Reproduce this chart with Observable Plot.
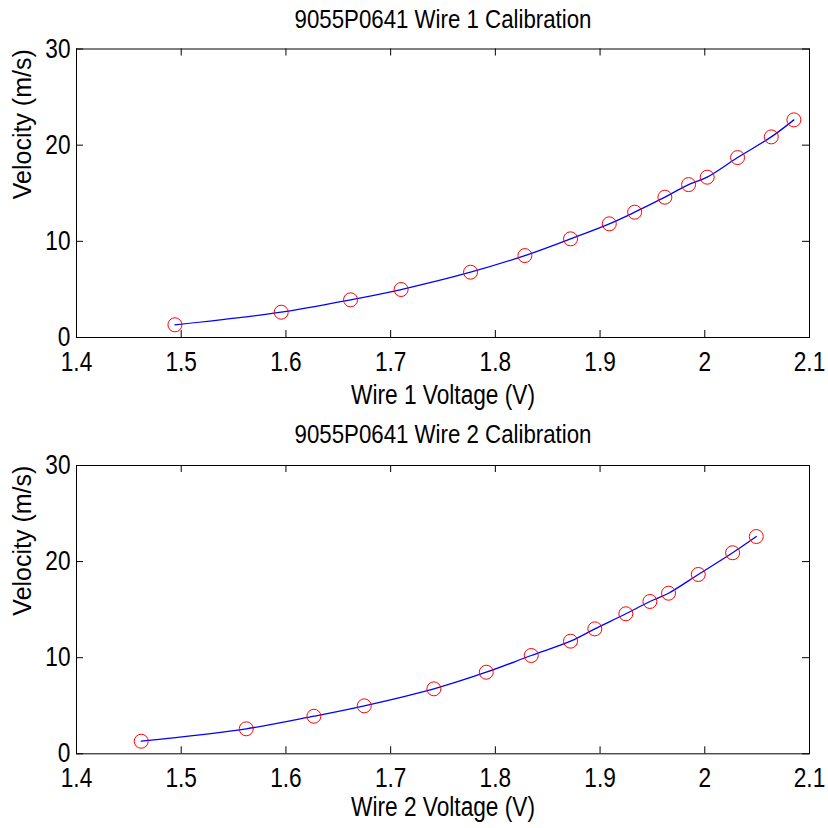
<!DOCTYPE html>
<html><head><meta charset="utf-8">
<script src="https://cdn.jsdelivr.net/npm/d3@7"></script>
<script src="https://cdn.jsdelivr.net/npm/@observablehq/plot@0.6"></script>
<style>body{margin:0;background:#fff;font-family:"Liberation Sans",Arial,sans-serif}svg{display:block}</style>
</head><body><div id="c"></div>
<script>
const wire1Voltage = [1.494,1.5955,1.6617,1.710,1.7763,1.8282,1.8718,1.9088,1.9330,1.9619,1.9845,2.0023,2.0313,2.0635,2.0851];
const wire1Velocity = [1.32,2.63,3.92,4.99,6.79,8.52,10.26,11.82,13.03,14.59,15.90,16.67,18.71,20.86,22.63];
const wire2Voltage = [1.4618,1.5621,1.6267,1.6748,1.7413,1.7913,1.8343,1.8718,1.8950,1.9246,1.9476,1.9654,1.9938,2.0266,2.0492];
const wire2Velocity = [1.31,2.60,3.91,4.99,6.76,8.49,10.23,11.72,13.0,14.57,15.85,16.71,18.66,20.92,22.61];
const xTicks = [1.4,1.5,1.6,1.7,1.8,1.9,2.0,2.1];
const yTicks = [0,10,20,30];
const titles = ["9055P0641 Wire 1 Calibration","9055P0641 Wire 2 Calibration"];
const xLabels = ["Wire 1 Voltage (V)","Wire 2 Voltage (V)"];
const yLabel = "Velocity (m/s)";

function panel(vx, vy, title, xlabel, mt, mb, titleDy, xlabDy) {
  const data = vx.map((v,i)=>({v, s: vy[i]}));
  const fw = 828-76-19;
  const fh = 414-mt-mb;
  const tl = 7;
  return Plot.plot({
    width: 828, height: 414,
    marginLeft: 76, marginRight: 19, marginTop: mt, marginBottom: mb,
    style: {fontFamily: '"Liberation Sans", Arial, sans-serif', background: "#fff", color: "#000"},
    x: {domain: [1.4, 2.1]},
    y: {domain: [0, 30]},
    marks: [
      Plot.frame({stroke: "#000", strokeWidth: 1}),
      Plot.ruleX(xTicks, {x: d=>d, insetTop: fh-tl, stroke: "#000"}),
      Plot.ruleX(xTicks, {x: d=>d, insetBottom: fh-tl, stroke: "#000"}),
      Plot.ruleY(yTicks, {y: d=>d, insetRight: fw-tl, stroke: "#000"}),
      Plot.ruleY(yTicks, {y: d=>d, insetLeft: fw-tl, stroke: "#000"}),
      Plot.axisX(xTicks, {tickSize: 0, tickPadding: 14, fontSize: 27, label: null, tickFormat: d => String(+d.toFixed(1))}),
      Plot.axisY(yTicks, {tickSize: 0, tickPadding: 6, fontSize: 27, label: null}),
      Plot.line(data, {x: "v", y: "s", stroke: "#0000ff", strokeWidth: 1.3, curve: "catmull-rom"}),
      Plot.dot(data, {x: "v", y: "s", r: 7, stroke: "#ff0000", strokeWidth: 1, fill: "none"}),
      Plot.text([title], {frameAnchor: "top", lineAnchor: "middle", dy: titleDy, fontSize: 26.5, fill: "#000"}),
      Plot.text([xlabel], {frameAnchor: "bottom", lineAnchor: "middle", dy: xlabDy, fontSize: 27, fill: "#000"}),
      Plot.text([yLabel], {frameAnchor: "left", lineAnchor: "middle", dx: -54, dy: 6, rotate: -90, fontSize: 25, fill: "#000"})
    ]
  });
}
const c = document.getElementById("c");
c.append(panel(wire1Voltage, wire1Velocity, titles[0], xLabels[0], 48.5, 77, -29, 58));
c.append(panel(wire2Voltage, wire2Velocity, titles[1], xLabels[1], 51, 74.7, -30.5, 54));
d3.select(c).selectAll("text").each(function() {
  if (this.textContent === yLabel) return;
  const L = this.getComputedTextLength();
  this.setAttribute("textLength", (L * 0.84).toFixed(2));
  this.setAttribute("lengthAdjust", "spacingAndGlyphs");
});
</script></body></html>
